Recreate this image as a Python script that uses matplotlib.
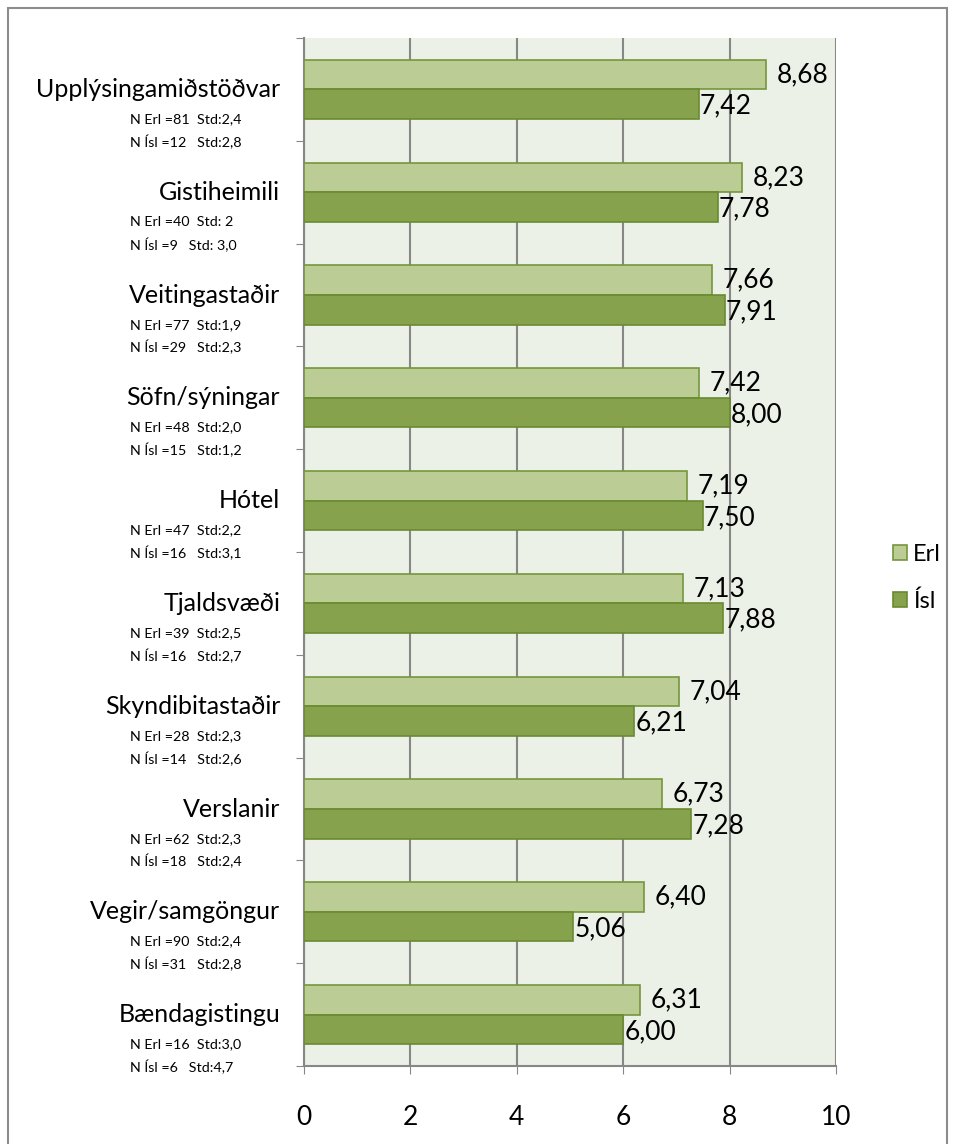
import numpy as np
import matplotlib
matplotlib.use('Agg')
import matplotlib.pyplot as plt
from matplotlib.patches import Rectangle

plt.rcParams['font.family'] = ['Lato', 'DejaVu Sans']

# -------------------------------------------------
# Data
# -------------------------------------------------
categories = ['Upplýsingamiðstöðvar', 'Gistiheimili', 'Veitingastaðir',
              'Söfn/sýningar', 'Hótel', 'Tjaldsvæði', 'Skyndibitastaðir',
              'Verslanir', 'Vegir/samgöngur', 'Bændagistingu']
erl = [8.68, 8.23, 7.66, 7.42, 7.19, 7.13, 7.04, 6.73, 6.40, 6.31]
isl = [7.42, 7.78, 7.91, 8.00, 7.50, 7.88, 6.21, 7.28, 5.06, 6.00]
n_erl = ['N Erl =81  Std:2,4', 'N Erl =40  Std: 2', 'N Erl =77  Std:1,9',
         'N Erl =48  Std:2,0', 'N Erl =47  Std:2,2', 'N Erl =39  Std:2,5',
         'N Erl =28  Std:2,3', 'N Erl =62  Std:2,3', 'N Erl =90  Std:2,4',
         'N Erl =16  Std:3,0']
n_isl = ['N Ísl =12   Std:2,8', 'N Ísl =9   Std: 3,0', 'N Ísl =29   Std:2,3',
         'N Ísl =15   Std:1,2', 'N Ísl =16   Std:3,1', 'N Ísl =16   Std:2,7',
         'N Ísl =14   Std:2,6', 'N Ísl =18   Std:2,4', 'N Ísl =31   Std:2,8',
         'N Ísl =6   Std:4,7']
xticks = [0, 2, 4, 6, 8, 10]

# -------------------------------------------------
# Styles
# -------------------------------------------------
c_erl, e_erl = '#BBCD95', '#76963C'
c_isl, e_isl = '#86A24C', '#6A8A32'
grid_c = '#878787'

fig = plt.figure(figsize=(9.55, 11.44), dpi=100)
fig.patches.append(Rectangle((8 / 955, -0.01), 939 / 955, 1 - 8 / 1144 + 0.01,
                             transform=fig.transFigure, fill=False,
                             edgecolor='#8C8C8C', linewidth=1.5))

ax = fig.add_axes([304 / 955, 78 / 1144, 532 / 955, 1028 / 1144])
ax.set_facecolor('#EBF1E6')

n = len(categories)
y = np.arange(n)
h = 0.287

ax.barh(y - h / 2, erl, height=h, color=c_erl, edgecolor=e_erl, linewidth=1.2, zorder=3, label='Erl')
ax.barh(y + h / 2, isl, height=h, color=c_isl, edgecolor=e_isl, linewidth=1.2, zorder=3, label='Ísl')

for i in range(n):
    ax.text(erl[i] + 0.2, y[i] - h / 2, f'{erl[i]:.2f}'.replace('.', ','),
            va='center', ha='left', fontsize=19, zorder=4)
    ax.text(isl[i] + 0.02, y[i] + h / 2 + 0.02, f'{isl[i]:.2f}'.replace('.', ','),
            va='center', ha='left', fontsize=19, zorder=4)

ax.set_xlim(0, 10)
ax.set_ylim(n - 0.5, -0.5)
ax.set_xticks(xticks)
ax.set_xticklabels([str(t) for t in xticks], fontsize=19)
ax.tick_params(axis='x', length=6, color=grid_c, pad=22)
ax.xaxis.grid(True, color=grid_c, linewidth=1.5, zorder=1)
ax.set_axisbelow(True)

ax.set_yticks(np.arange(-0.5, n, 1.0))
ax.set_yticklabels([])
ax.tick_params(axis='y', length=6, color=grid_c)

for s in ['top', 'right']:
    ax.spines[s].set_visible(False)
ax.spines['bottom'].set_color(grid_c)
ax.spines['bottom'].set_linewidth(1.5)
ax.spines['left'].set_color(grid_c)
ax.spines['left'].set_linewidth(1.5)

# category labels and sample sizes
tr = ax.get_yaxis_transform()
for i in range(n):
    ax.text(-0.045, y[i], categories[i], transform=tr, ha='right', va='center',
            fontsize=18)
    ax.text(-0.327, y[i] + 0.29, n_erl[i], transform=tr, ha='left', va='center',
            fontsize=10.3)
    ax.text(-0.327, y[i] + 0.51, n_isl[i], transform=tr, ha='left', va='center',
            fontsize=10.3)

leg = fig.legend(loc='center left', bbox_to_anchor=(872 / 955, 1 - 578 / 1144),
                 frameon=False, fontsize=17, handlelength=0.6, handleheight=0.6,
                 handletextpad=0.25, labelspacing=1.1)

plt.savefig('out.png', dpi=100)
